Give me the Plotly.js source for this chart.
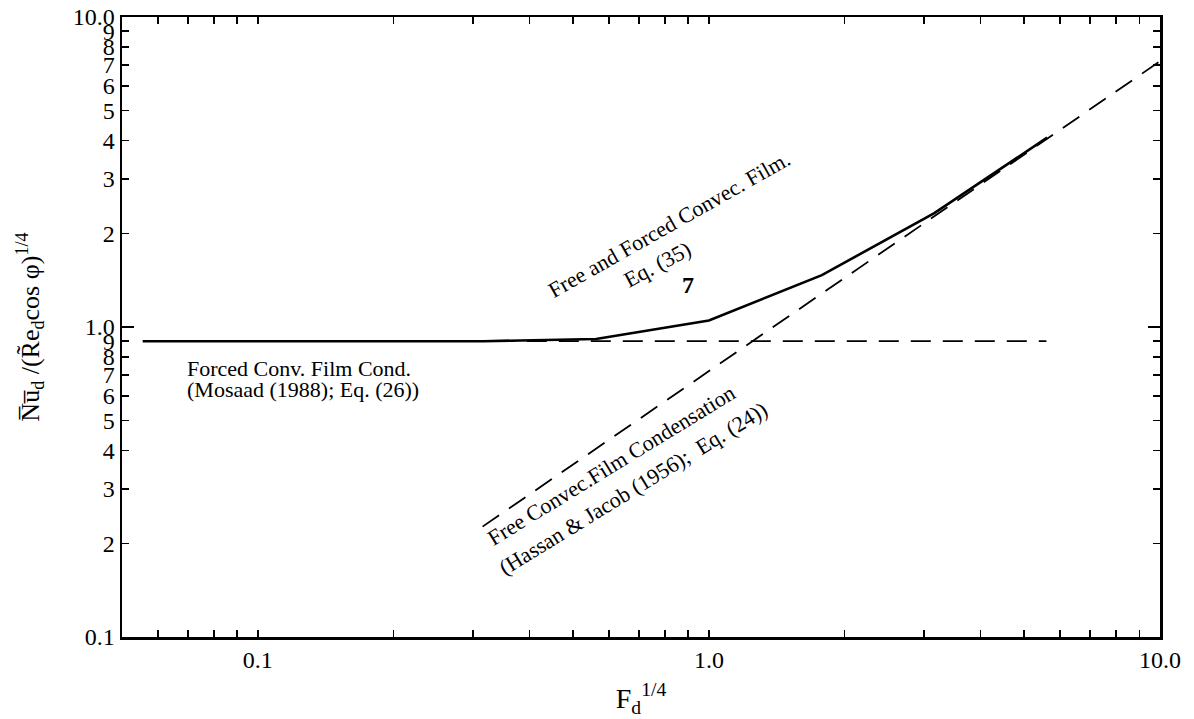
<!DOCTYPE html>
<html>
<head>
<meta charset="utf-8">
<script src="https://cdn.plot.ly/plotly-3.0.1.min.js"></script>
<style>html,body{margin:0;padding:0;background:#fff;}#chart{width:1194px;height:719px;}</style>
</head>
<body>
<div id="chart"></div>
<script>
// ---- data ----
const xCombined = [0.0556, 0.1, 0.178, 0.316, 0.562, 1.0, 1.78, 3.16, 5.62];
const yCombined = [0.9, 0.9, 0.9, 0.9, 0.915, 1.05, 1.47, 2.33, 4.08];
const xForced = [0.0556, 5.6];
const yForced = [0.9, 0.9];
const xFree = [0.315, 10];
const yFree = [0.227, 7.2];

const xTickVals = [0.06, 0.07, 0.08, 0.09, 0.1, 0.2, 0.3, 0.4, 0.5, 0.6, 0.7, 0.8, 0.9, 1, 2, 3, 4, 5, 6, 7, 8, 9, 10];
const xTickText = ["", "", "", "", "0.1", "", "", "", "", "", "", "", "", "1.0", "", "", "", "", "", "", "", "", "10.0"];
const yTickVals = [0.1, 0.2, 0.3, 0.4, 0.5, 0.6, 0.7, 0.8, 0.9, 1, 2, 3, 4, 5, 6, 7, 8, 9, 10];
const yTickText = ["0.1", "2", "3", "4", "5", "6", "7", "8", "9", "1.0", "2", "3", "4", "5", "6", "7", "8", "9", "10.0"];
const yMajorVals = [0.1, 1, 10];

const labelForced1 = "Forced Conv. Film Cond.";
const labelForced2 = "(Mosaad (1988); Eq. (26))";
const labelComb1 = "Free and Forced Convec. Film.";
const labelComb2 = "Eq. (35)";
const labelFree1 = "Free Convec.Film Condensation";
const labelFree2 = "(Hassan & Jacob (1956);\u00a0 Eq. (24))";

// ---- layout helpers ----
const W = 1194, H = 719;
const M = {l: 122, r: 34, t: 17, b: 82};
const PW = W - M.l - M.r, PH = H - M.t - M.b;
function px(xp) { return (xp - M.l) / PW; }
function py(yp) { return (H - M.b - yp) / PH; }

const FONT = "Liberation Serif, Times New Roman, serif";

const traces = [
  {x: xForced, y: yForced, mode: "lines", type: "scatter",
   line: {color: "#000", width: 1.8, dash: "20px,12px"}, hoverinfo: "skip"},
  {x: xFree, y: yFree, mode: "lines", type: "scatter", yaxis: "y2",
   line: {color: "#000", width: 1.8, dash: "20px,12px"}, hoverinfo: "skip"},
  {x: xCombined, y: yCombined, mode: "lines", type: "scatter",
   line: {color: "#000", width: 2.6}, hoverinfo: "skip"}
];

const axisCommon = {
  type: "log",
  showgrid: false,
  zeroline: false,
  showline: true,
  linecolor: "#000",
  linewidth: 2.5,
  ticks: "inside",
  tickcolor: "#000",
  tickwidth: 1.6,
  mirror: "ticks",
  tickfont: {family: FONT, size: 24, color: "#000"}
};

function ann(text, xp, yp, angle, extra) {
  return Object.assign({
    text: text, xref: "paper", yref: "paper", x: px(xp), y: py(yp),
    showarrow: false, textangle: angle, xanchor: "center", yanchor: "middle",
    font: {family: FONT, size: 22, color: "#000"}
  }, extra || {});
}

const layout = {
  width: W, height: H,
  margin: M,
  paper_bgcolor: "#fff",
  plot_bgcolor: "#fff",
  showlegend: false,
  xaxis: Object.assign({}, axisCommon, {
    range: [Math.log10(0.05), 1],
    tickmode: "array", tickvals: xTickVals, ticktext: xTickText, ticklen: 7,
    title: {text: "F<sub>d</sub><sup>1/4</sup>", font: {family: FONT, size: 28, color: "#000"}, standoff: 16}
  }),
  yaxis: Object.assign({}, axisCommon, {
    range: [-1, 1],
    tickmode: "array", tickvals: yTickVals, ticktext: yTickText, ticklen: 7,
    title: {text: "N\u0305u\u0305<sub>d</sub> /(R\u0303e<sub>d</sub>cos \u03c6)<sup>1/4</sup>", font: {family: FONT, size: 26, color: "#000"}, standoff: 26}
  }),
  yaxis2: Object.assign({}, axisCommon, {
    range: [-1, 1], overlaying: "y", side: "left", anchor: "x",
    tickmode: "array", tickvals: yMajorVals, ticklen: 12, showticklabels: false
  }),
  annotations: [
    ann(labelForced1, 185, 368, 0, {xanchor: "left"}),
    ann(labelForced2, 185, 389, 0, {xanchor: "left"}),
    ann(labelComb1, 669, 224, -29.5),
    ann(labelComb2, 657, 264, -28),
    ann(labelFree1, 611, 466, -31.5),
    ann(labelFree2, 633, 488, -31.5),
    ann("<b>7</b>", 688, 285, 0, {font: {family: FONT, size: 24, color: "#000"}})
  ]
};

Plotly.newPlot("chart", traces, layout, {staticPlot: true, displayModeBar: false});
</script>
</body>
</html>
